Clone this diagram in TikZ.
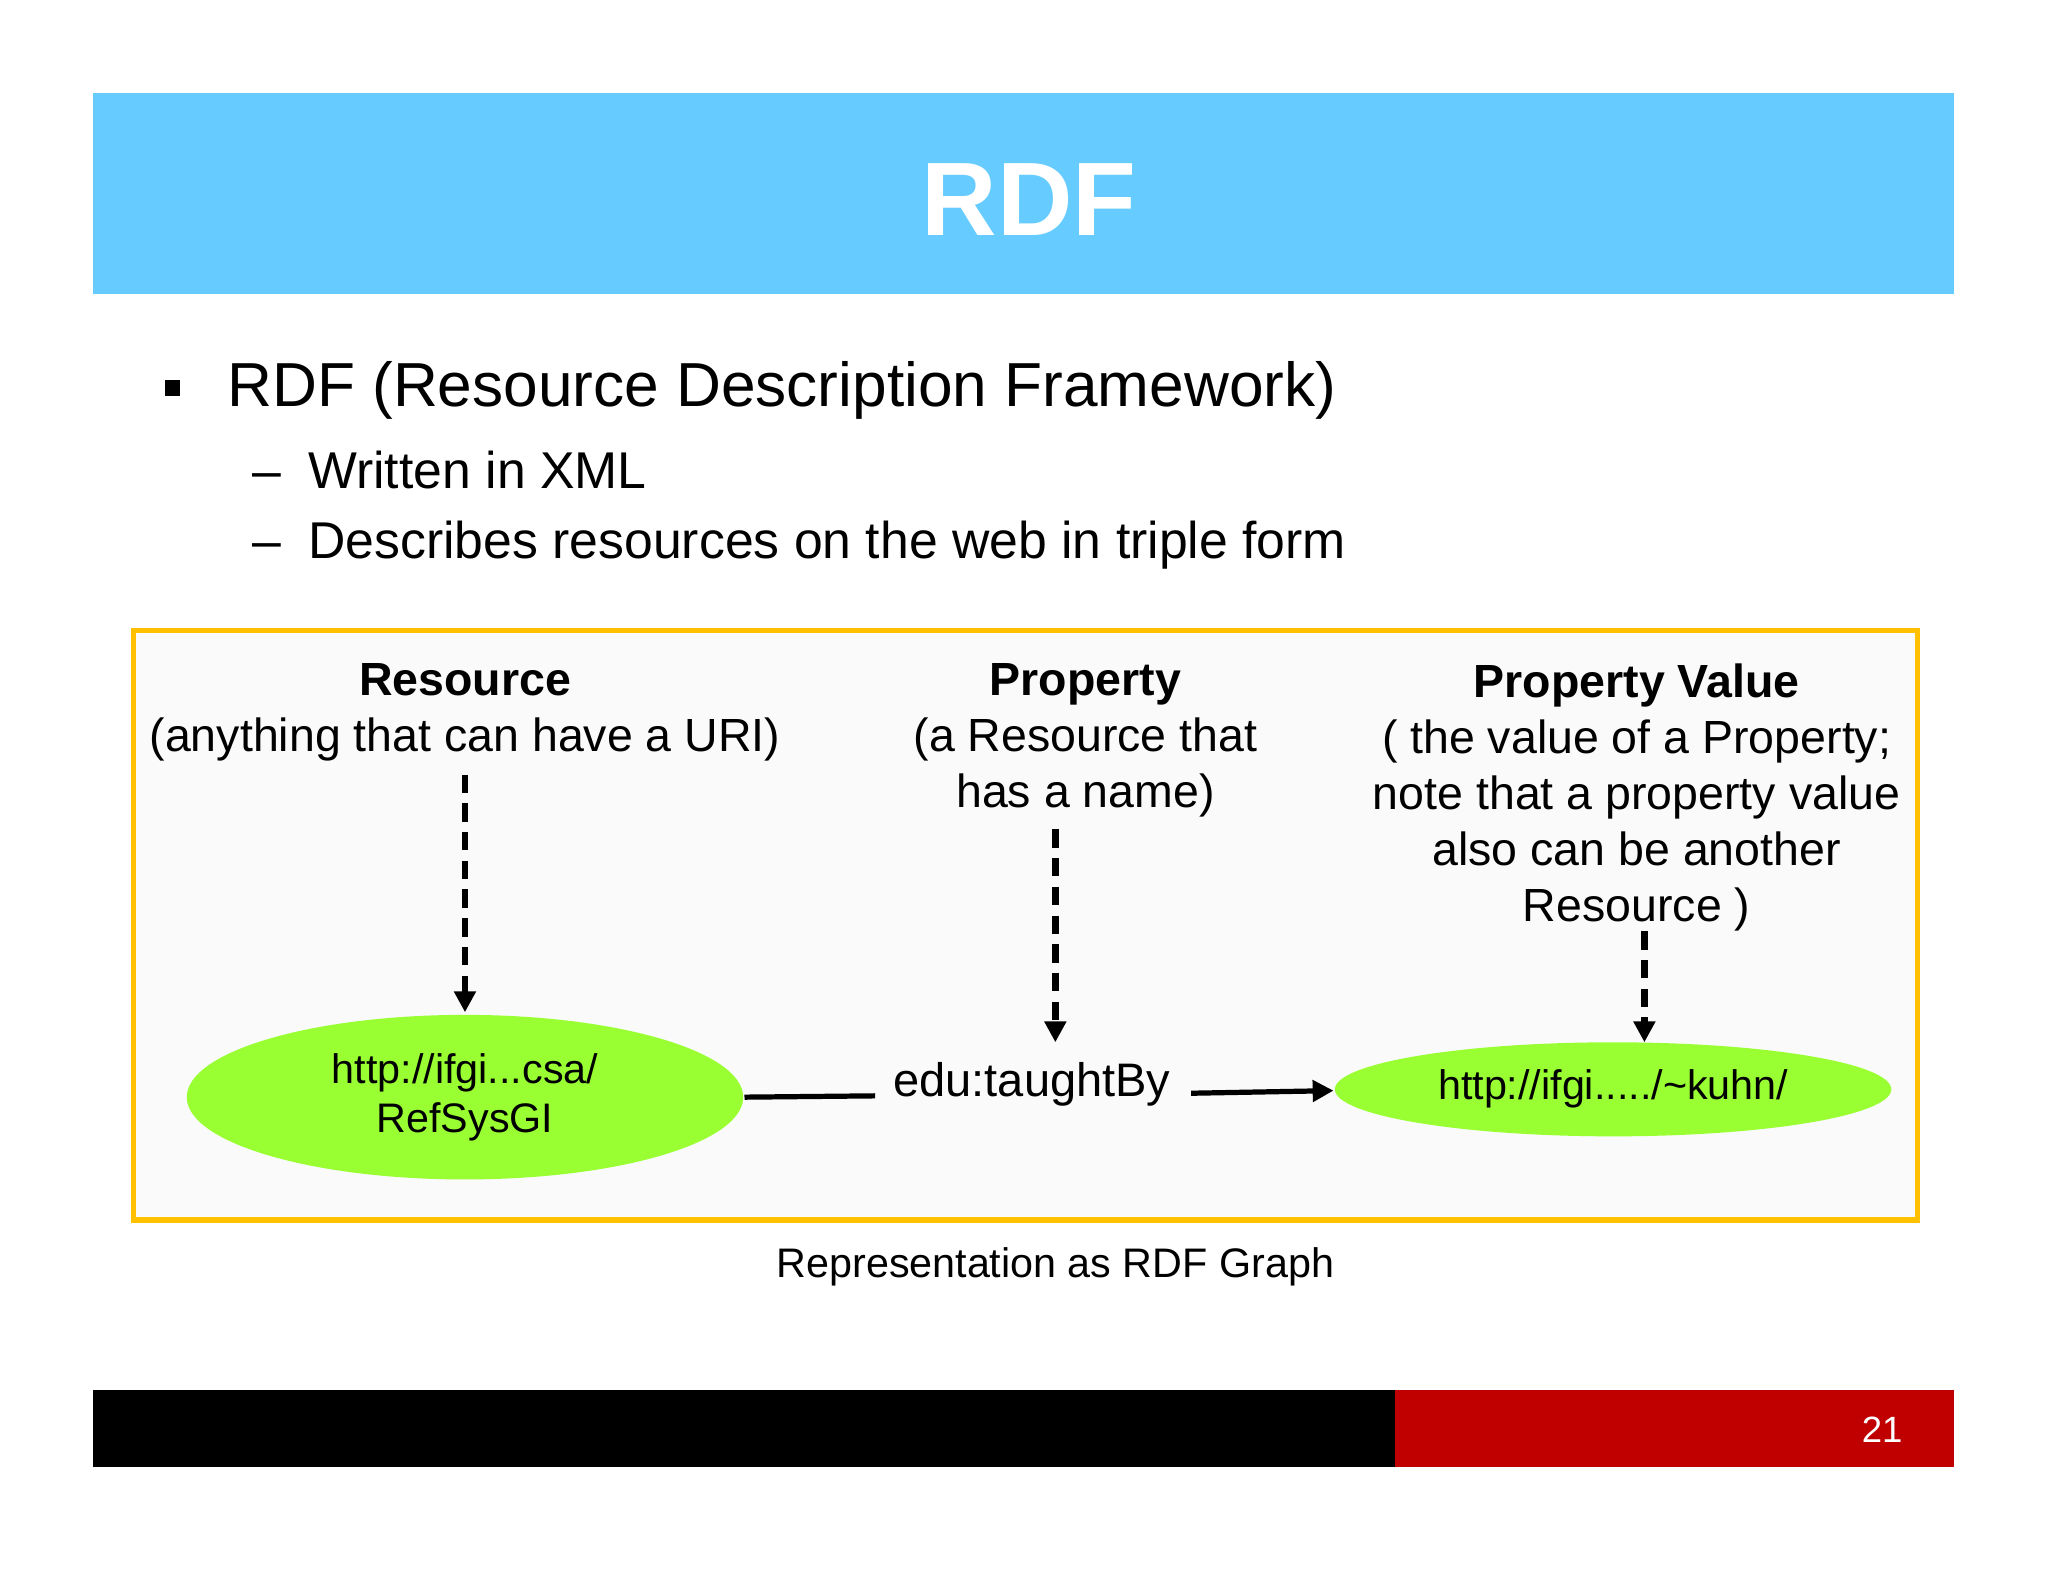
\documentclass[tikz,border=0pt]{standalone}
\usepackage{fontspec}
\setmainfont{Liberation Sans}
\usetikzlibrary{arrows.meta,shapes.geometric}
\definecolor{banner}{HTML}{66CCFF}
\definecolor{frame}{HTML}{FFC000}
\definecolor{ell}{HTML}{99FF33}
\definecolor{foot}{HTML}{C00000}
\tikzset{
 hdr/.style={font=\fontsize{17.8}{21.5}\selectfont, align=center},
 ellnode/.style={ellipse, fill=ell, font=\fontsize{15.8}{19}\selectfont, align=center},
 dasharrow/.style={line width=2.5pt, dash pattern=on 7pt off 4pt, -{Triangle[length=8pt,width=8pt]}},
 solidline/.style={line width=2pt}
}
\begin{document}
\begin{tikzpicture}[x=0.5pt,y=-0.5pt]
\useasboundingbox (0,0) rectangle (1568,1211);
\fill[white] (0,0) rectangle (1568,1211);
\fill[banner] (71,71) rectangle (1496,225);
\node[text=white, font=\fontsize{40}{42}\selectfont\bfseries] (title) at (788,153) {RDF};
\fill[black] (126,291) rectangle (138,303);
\node[anchor=west, font=\fontsize{23.8}{27}\selectfont] (b1) at (167,299) {RDF (Resource Description Framework)};
\node[anchor=west, font=\fontsize{19.8}{23}\selectfont] (b2) at (186,360) {–\hspace{10.5pt}Written in XML};
\node[anchor=west, font=\fontsize{19.8}{23}\selectfont] (b3) at (186,417) {–\hspace{10.5pt}Describes resources on the web in triple form};
\draw[frame, line width=2pt, fill={rgb,255:red,250;green,250;blue,250}] (102,483) rectangle (1468,934);
\node[hdr, anchor=north] (h1) at (356,501) {\textbf{Resource}\\(anything that can have a URI)};
\node[hdr, anchor=north] (h2) at (831,501) {\textbf{Property}\\(a Resource that\\has a name)};
\node[hdr, anchor=north] (h3) at (1253,501) {\textbf{Property Value}\\( the value of a Property;\\note that a property value\\also can be another\\Resource )};
\node[ellnode, minimum width=426pt*0.5, minimum height=126pt*0.5] (e1) at (356,840) {http://ifgi...csa/\\RefSysGI};
\node[ellnode, minimum width=426pt*0.5, minimum height=72pt*0.5] (e2) at (1235,834) {http://ifgi...../\textasciitilde kuhn/};
\node[font=\fontsize{18}{21}\selectfont, inner sep=2pt] (p) at (790,830) {edu:taughtBy};
\coordinate (a1s) at (356,593); \coordinate (a1e) at (356,775);
\coordinate (a2s) at (808,635); \coordinate (a2e) at (808,798);
\coordinate (a3s) at (1259,713); \coordinate (a3e) at (1259,798);
\draw[dasharrow] (a1s) -- (a1e);
\draw[dasharrow] (a2s) -- (a2e);
\draw[dasharrow] (a3s) -- (a3e);
\coordinate (l1) at (570,840); \coordinate (l2) at (670,839);
\coordinate (r1) at (912,837); \coordinate (r2) at (1021,835);
\draw[solidline] (l1) -- (l2);
\draw[solidline, -{Triangle[length=8pt,width=8pt]}] (r1) -- (r2);
\node[font=\fontsize{15.8}{18}\selectfont] (cap) at (808,970) {Representation as RDF Graph};
\fill[black] (71,1064) rectangle (1068,1123);
\fill[foot] (1068,1064) rectangle (1496,1123);
\node[text=white, font=\fontsize{14}{16}\selectfont] (pg) at (1441,1095) {21};
\end{tikzpicture}
\end{document}
